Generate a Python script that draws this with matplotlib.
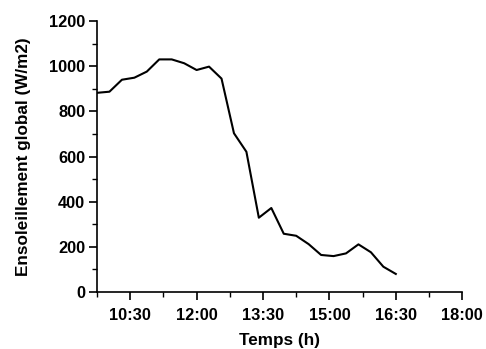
import matplotlib
matplotlib.use("Agg")
import matplotlib.pyplot as plt
from matplotlib.ticker import MultipleLocator, FixedLocator

plt.rcParams['font.family'] = ['Liberation Sans', 'DejaVu Sans']

# time in decimal hours
hours = [9.75, 10.031, 10.313, 10.594, 10.875, 11.156, 11.438, 11.719, 12.0,
         12.281, 12.563, 12.844, 13.125, 13.406, 13.688, 13.969, 14.25, 14.531,
         14.813, 15.094, 15.375, 15.656, 15.938, 16.219, 16.5]
irradiance = [882, 887, 940, 949, 976, 1030, 1030, 1013, 983, 998, 945, 703,
              621, 329, 372, 258, 249, 212, 164, 159, 171, 211, 176, 112, 80]
xtick_pos = [10.5, 12.0, 13.5, 15.0, 16.5, 18.0]
xtick_labels = ["10:30", "12:00", "13:30", "15:00", "16:30", "18:00"]

fig = plt.figure(figsize=(4.86, 3.49), dpi=100)
ax = fig.add_axes([0.1996, 0.1633, 0.951 - 0.1996, 0.9398 - 0.1633])
ax.plot(hours, irradiance, color='black', linewidth=1.5)

ax.set_xlim(9.75, 18.0)
ax.set_ylim(0, 1200)
ax.xaxis.set_major_locator(FixedLocator(xtick_pos))
ax.set_xticklabels(xtick_labels)
ax.xaxis.set_minor_locator(MultipleLocator(0.75))
ax.yaxis.set_major_locator(MultipleLocator(200))
ax.yaxis.set_minor_locator(MultipleLocator(100))

for s in ['top', 'right']:
    ax.spines[s].set_visible(False)
for s in ['left', 'bottom']:
    ax.spines[s].set_linewidth(1.2)

ax.tick_params(which='major', direction='out', length=6, width=1.2, labelsize=11.8)
ax.tick_params(axis='x', which='major', pad=5.5)
ax.tick_params(axis='y', which='major', pad=2.5)
ax.tick_params(which='minor', direction='out', length=3.5, width=1.0)
for lab in ax.get_xticklabels() + ax.get_yticklabels():
    lab.set_fontweight('bold')

ax.set_xlabel("Temps (h)", fontsize=12.3, fontweight='bold', labelpad=7.5)
ax.set_ylabel("Ensoleillement global (W/m2)", fontsize=12.3, fontweight='bold', labelpad=13)

fig.savefig("out.png", dpi=100)
